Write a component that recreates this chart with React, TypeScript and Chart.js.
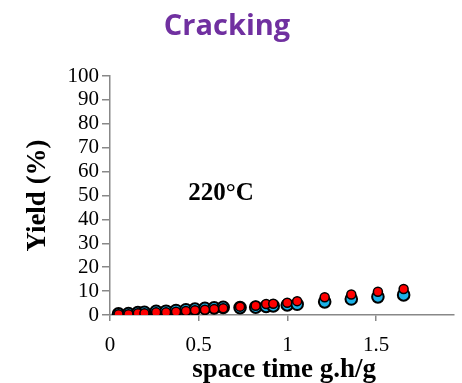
import React, { useEffect, useRef } from "react";
import { Chart, registerables } from "chart.js";

Chart.register(...registerables);

const spaceTimeRed = [0.048, 0.104, 0.157, 0.194, 0.26, 0.316, 0.372, 0.428, 0.479, 0.535, 0.587, 0.638, 0.733, 0.821, 0.88, 0.92, 0.999, 1.055, 1.21, 1.36, 1.51, 1.655];
const yieldRed = [0.3, 0.3, 0.7, 0.7, 1.1, 1.1, 1.4, 1.7, 2.0, 2.2, 2.5, 2.8, 3.5, 3.9, 4.6, 4.7, 5.1, 5.8, 7.4, 8.6, 9.7, 10.9];
const spaceTimeBlue = [0.048, 0.104, 0.157, 0.194, 0.26, 0.316, 0.372, 0.428, 0.479, 0.535, 0.587, 0.638, 0.733, 0.821, 0.88, 0.92, 0.999, 1.055, 1.21, 1.36, 1.51, 1.655];
const yieldBlue = [0.5, 0.6, 1.0, 1.1, 1.5, 1.6, 1.9, 2.2, 2.5, 2.8, 3.0, 3.2, 3.1, 3.3, 3.6, 3.8, 4.2, 4.5, 5.5, 6.7, 7.6, 8.4];
const xTicks = [0, 0.5, 1, 1.5];
const chartTitle = "Cracking";
const yTitle = "Yield (%)";
const xTitle = "space time g.h/g";
const annotationText = "220°C";
const annotationX = 0.626;
const annotationY = 51;

const SERIF = "'Liberation Serif', 'Times New Roman', serif";

export default function App() {
  const ref = useRef<HTMLCanvasElement | null>(null);
  useEffect(() => {
    if (!ref.current) return;
    const texts = {
      id: "texts",
      afterDraw(chart: any) {
        const { ctx, scales, chartArea } = chart;
        ctx.save();
        // chart title
        ctx.font = `bold 29px 'Open Sans', sans-serif`;
        ctx.fillStyle = "#7030A0";
        ctx.textAlign = "center";
        ctx.textBaseline = "middle";
        ctx.fillText(chartTitle, 227, 27);
        // y-axis title
        ctx.save();
        ctx.translate(38, (chartArea.top + chartArea.bottom) / 2);
        ctx.rotate(-Math.PI / 2);
        ctx.font = `bold 27px ${SERIF}`;
        ctx.fillStyle = "#000";
        ctx.fillText(yTitle, 0, 0);
        ctx.restore();
        // x-axis title
        ctx.font = `bold 27px ${SERIF}`;
        ctx.fillStyle = "#000";
        ctx.textBaseline = "alphabetic";
        ctx.fillText(xTitle, (chartArea.left + chartArea.right) / 2 + 2, 377);
        // annotation
        const px = scales.x.getPixelForValue(annotationX);
        const py = scales.y.getPixelForValue(annotationY);
        ctx.font = `bold 25px ${SERIF}`;
        ctx.textBaseline = "middle";
        ctx.fillText(annotationText, px, py);
        ctx.restore();
      },
    };
    const chart = new Chart(ref.current, {
      type: "scatter",
      data: {
        datasets: [
          {
            label: "red",
            data: spaceTimeRed.map((x, i) => ({ x, y: yieldRed[i] })),
            backgroundColor: "#FF0000",
            borderColor: "#000000",
            borderWidth: 1.5,
            pointRadius: 4.5,
          },
          {
            label: "blue",
            data: spaceTimeBlue.map((x, i) => ({ x, y: yieldBlue[i] })),
            backgroundColor: "#1CB2E8",
            borderColor: "#000000",
            borderWidth: 2,
            pointRadius: 5.8,
          },
        ],
      },
      options: {
        animation: false,
        responsive: true,
        maintainAspectRatio: false,
        layout: { padding: { left: 64.5, right: 0, top: 76, bottom: 14 } },
        plugins: {
          legend: { display: false },
          tooltip: { enabled: false },
          title: { display: false },
        },
        scales: {
          x: {
            type: "linear",
            min: 0,
            max: 1.94,
            afterBuildTicks: (axis: any) => {
              axis.ticks = xTicks.map((v) => ({ value: v }));
            },
            ticks: {
              color: "#000",
              font: { family: SERIF, size: 21 },
              padding: 11.4,
              callback: (v: any) => String(v),
            },
            grid: { drawOnChartArea: false, color: "#888", tickLength: 6, lineWidth: 1.5 },
            border: { color: "#888", width: 1.5 },
          },
          y: {
            type: "linear",
            min: 0,
            max: 100,
            ticks: {
              stepSize: 10,
              autoSkip: false,
              color: "#000",
              font: { family: SERIF, size: 21 },
              padding: 3,
            },
            grid: { drawOnChartArea: false, color: "#888", tickLength: 8, lineWidth: 1.5 },
            border: { color: "#888", width: 1.5 },
          },
        },
      },
      plugins: [texts],
    });
    return () => chart.destroy();
  }, []);
  return (
    <div style={{ position: "fixed", left: 0, top: 0, width: 462, height: 383, background: "#fff" }}>
      <canvas ref={ref} />
    </div>
  );
}
